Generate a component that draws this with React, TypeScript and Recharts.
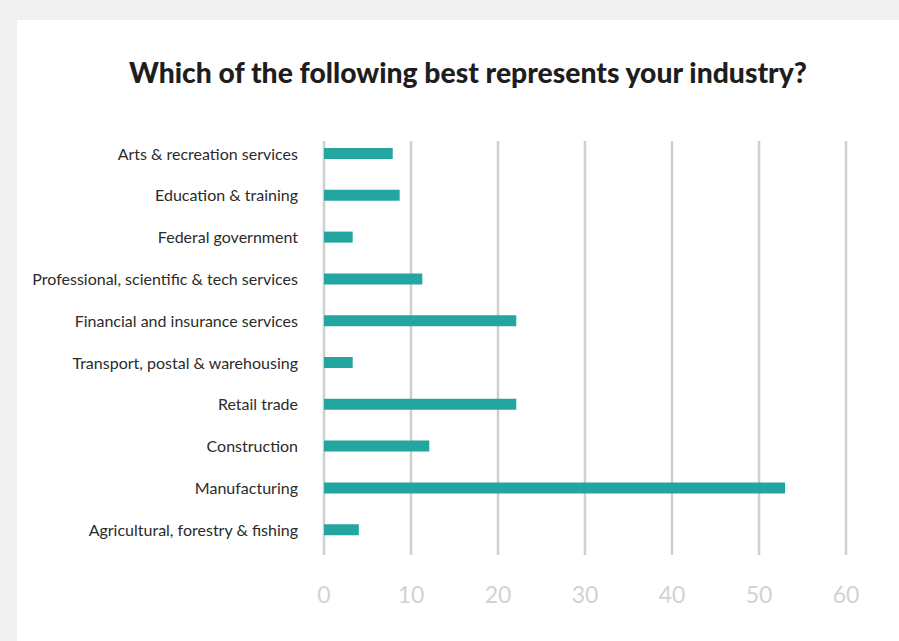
import React from "react";
import { BarChart, Bar, XAxis, YAxis, CartesianGrid } from "recharts";

const categories = [
  "Arts & recreation services",
  "Education & training",
  "Federal government",
  "Professional, scientific & tech services",
  "Financial and insurance services",
  "Transport, postal & warehousing",
  "Retail trade",
  "Construction",
  "Manufacturing",
  "Agricultural, forestry & fishing",
];
const values = [7.9, 8.7, 3.3, 11.3, 22.1, 3.3, 22.1, 12.1, 53.0, 4.0];
const xTicks = [0, 10, 20, 30, 40, 50, 60];
const title = "Which of the following best represents your industry?";

const data = categories.map((c, i) => ({ name: c, value: values[i] }));

export default function App() {
  return (
    <div
      style={{
        position: "absolute",
        left: 0,
        top: 0,
        width: 899,
        height: 641,
        background: "#f0f0f0",
        overflow: "hidden",
      }}
    >
      <div
        style={{
          position: "absolute",
          left: 17,
          top: 20,
          width: 882,
          height: 621,
          background: "#ffffff",
        }}
      />
      <svg
        width={899}
        height={120}
        style={{ position: "absolute", left: 0, top: 0 }}
      >
        <text
          x={468}
          y={83}
          textAnchor="middle"
          textLength={678}
          lengthAdjust="spacingAndGlyphs"
          fontFamily="Lato, 'Open Sans', sans-serif"
          fontWeight={900}
          fontSize={29}
          fill="#1e1e1e"
        >
          {title}
        </text>
      </svg>
      <div style={{ position: "absolute", left: 0, top: 0 }}>
        <BarChart
          width={899}
          height={641}
          data={data}
          layout="vertical"
          margin={{ top: 141, right: 53, bottom: 0, left: 0 }}
        >
          <CartesianGrid
            horizontal={false}
            vertical={true}
            stroke="#cfcfcf"
            strokeWidth={2.5}
          />
          <XAxis
            type="number"
            domain={[0, 60]}
            ticks={xTicks}
            height={86}
            axisLine={false}
            tickLine={false}
            tickSize={0}
            tickMargin={32}
            tick={{
              fill: "#d2d2d2",
              fontSize: 23,
              fontFamily: "Lato, 'Open Sans', sans-serif",
            }}
          />
          <YAxis
            type="category"
            dataKey="name"
            width={324}
            axisLine={false}
            tickLine={false}
            tickSize={0}
            tickMargin={26}
            interval={0}
            padding={{ top: -8, bottom: 4 }}
            tick={{
              fill: "#2b2b2b",
              fontSize: 16,
              fontFamily: "Lato, 'Open Sans', sans-serif",
            }}
          />
          <Bar
            dataKey="value"
            fill="#24a6a0"
            barSize={11}
            isAnimationActive={false}
          />
        </BarChart>
      </div>
    </div>
  );
}
